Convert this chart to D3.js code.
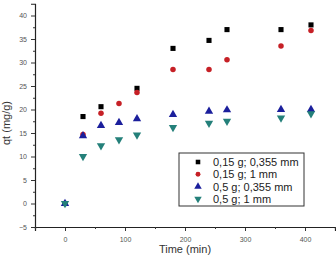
<!DOCTYPE html>
<html>
<head>
<meta charset="utf-8">
<script src="https://cdn.jsdelivr.net/npm/d3@7"></script>
<style>
  body { margin: 0; background: #fff; }
  svg { display: block; font-family: Arial, "Liberation Sans", sans-serif; }
</style>
</head>
<body>
<svg id="chart" width="336" height="259"></svg>
<script>
// time points (min)
const times = [0, 30, 60, 90, 120, 180, 240, 270, 360, 410];

// qt (mg/g) per series
const s015_0355 = [0, 18.5, 20.6, null, 24.5, 33.0, 34.7, 37.0, 37.0, 38.0];
const s015_1 = [0, 14.7, 19.2, 21.3, 23.6, 28.5, 28.5, 30.6, 33.5, 36.8];
const s05_0355 = [0, 14.4, 16.6, 17.2, 18.0, 18.9, 19.6, 19.9, 20.0, 20.0];
const s05_1 = [0, 10.0, 12.3, 13.6, 14.6, 16.2, 17.1, 17.5, 18.2, 19.1];

const seriesNames = ['0,15 g; 0,355 mm', '0,15 g; 1 mm', '0,5 g; 0,355 mm', '0,5 g; 1 mm'];
const xTicks = [0, 100, 200, 300, 400];
const yTicks = [-5, 0, 5, 10, 15, 20, 25, 30, 35, 40];

const series = [
    {name: seriesNames[0], values: s015_0355, color: '#000000', shape: d3.symbolSquare, size: 26, rot: 0},
    {name: seriesNames[1], values: s015_1, color: '#c62026', shape: d3.symbolCircle, size: 24, rot: 0},
    {name: seriesNames[2], values: s05_0355, color: '#1b1f9c', shape: d3.symbolTriangle, size: 30, rot: 0},
    {name: seriesNames[3], values: s05_1, color: '#24807a', shape: d3.symbolTriangle, size: 30, rot: 180},
];

const svg = d3.select('#chart');

const x = d3.scaleLinear().domain([-50, 450]).range([35, 335]);
const y = d3.scaleLinear().domain([-5, 42.5]).range([227, 3.75]);

// y axis
const yAxis = svg.append('g').attr('transform', 'translate(35,0)');
yAxis.call(d3.axisLeft(y).tickValues(yTicks).tickSize(4).tickPadding(4));
yAxis.append('g').call(d3.axisLeft(y)
    .tickValues(d3.range(-2.5, 42.5, 5)).tickSize(2).tickFormat(''));
yAxis.selectAll('.domain').filter((d, i) => i > 0).remove();

// x axis
const xAxis = svg.append('g').attr('transform', 'translate(0,227)');
xAxis.call(d3.axisBottom(x).tickValues(xTicks).tickSize(4).tickPadding(6));
xAxis.append('g').call(d3.axisBottom(x)
    .tickValues([-50, 50, 150, 250, 350, 450]).tickSize(2).tickFormat(''));

svg.selectAll('.domain').attr('stroke', '#222').attr('stroke-width', 1.2);
svg.selectAll('.tick line').attr('stroke', '#333');
svg.selectAll('.tick text').attr('fill', '#555').style('font-size', '7px');

// points
series.forEach(function(s) {
    svg.append('g').selectAll('path')
        .data(times.map((t, i) => ({t: t, v: s.values[i]})).filter(d => d.v !== null))
        .enter().append('path')
        .attr('d', d3.symbol().type(s.shape).size(s.size))
        .attr('fill', s.color)
        .attr('transform', d => 'translate(' + x(d.t) + ',' + y(d.v) + ') rotate(' + s.rot + ')');
});

// axis titles
svg.append('text')
    .attr('x', 185).attr('y', 253)
    .attr('text-anchor', 'middle')
    .style('font-size', '11px').attr('fill', '#333')
    .text('Time (min)');

svg.append('text')
    .attr('transform', 'translate(10,123) rotate(-90)')
    .attr('text-anchor', 'middle')
    .style('font-size', '11px').attr('fill', '#333')
    .text('qt (mg/g)');

// legend
const lg = svg.append('g');
lg.append('rect')
    .attr('x', 179).attr('y', 153).attr('width', 125).attr('height', 53)
    .attr('fill', '#fff').attr('stroke', '#333').attr('stroke-width', 1);
series.forEach(function(s, i) {
    const yy = 162 + i * 12.3;
    lg.append('path')
        .attr('d', d3.symbol().type(s.shape).size(s.size * 0.8))
        .attr('fill', s.color)
        .attr('transform', 'translate(198,' + yy + ') rotate(' + s.rot + ')');
    lg.append('text')
        .attr('x', 213).attr('y', yy + 4)
        .style('font-size', '11px').attr('fill', '#222')
        .text(s.name);
});
</script>
</body>
</html>
